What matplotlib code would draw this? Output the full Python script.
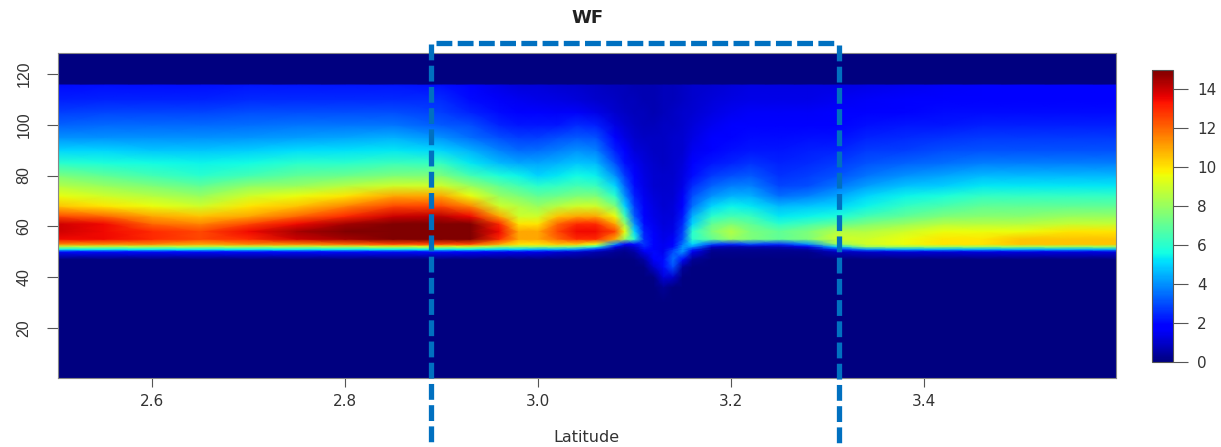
import numpy as np
import matplotlib
matplotlib.use("Agg")
import matplotlib.pyplot as plt
from matplotlib.lines import Line2D
from matplotlib.cm import ScalarMappable
from matplotlib.colors import Normalize

plt.rcParams['font.family'] = ['DejaVu Sans', 'Liberation Sans']

title = "WF"
xlabel = "Latitude"
xticks = [2.6, 2.8, 3.0, 3.2, 3.4]
xticklabels = ["2.6", "2.8", "3.0", "3.2", "3.4"]
yticks = [20, 40, 60, 80, 100, 120]
cticks = [0, 2, 4, 6, 8, 10, 12, 14]

heights = [30, 36, 40, 44, 47, 50, 51, 52, 53, 55, 58, 61, 64, 68, 72, 76, 80, 85, 90, 95, 100, 105, 110, 115.8, 116.2, 129]
lats = [2.50, 2.55, 2.60, 2.65, 2.70, 2.75, 2.80, 2.85, 2.90, 2.93, 2.96, 2.98, 3.00, 3.02, 3.04, 3.06, 3.08, 3.09, 3.10,
        3.11, 3.12, 3.13, 3.14, 3.15, 3.16, 3.18, 3.20, 3.22, 3.25, 3.28, 3.31, 3.34, 3.38, 3.42, 3.46, 3.50, 3.55, 3.60]

c250 = [0,0,0,0,0,2,5.5,8.5,11.5,13.5,14,14,12.5,10.5,9.5,8.5,7.5,6,5,4,3.3,2.8,2.3,2,0,0]
c255 = [0,0,0,0,0,2,5.5,8.5,11.5,13.5,13.5,13.5,12,10,9,8,7,5.8,5,4,3.4,2.9,2.4,2.1,0,0]
c260 = [0,0,0,0,0,2,5.5,8.5,11.5,13,13,12,11,9.5,8.5,7.5,6.5,5.6,4.8,4,3.4,2.9,2.4,2.1,0,0]
c265 = [0,0,0,0,0,2,5.5,8.5,11,12.5,12.5,11.5,10.5,9,8,7,6,5.5,4.8,4,3.4,2.9,2.4,2.1,0,0]
c270 = [0,0,0,0,0,2,5.5,8.5,11.5,13,13.5,12.5,11,10,9,7.8,6.5,5.6,4.9,4.1,3.5,3,2.5,2.2,0,0]
c275 = [0,0,0,0,0,2,5.5,8.5,11.5,14,14.5,13.5,12,10.5,9.5,8,7,6,5.1,4.2,3.6,3,2.5,2.2,0,0]
c280 = [0,0,0,0,0,2,5.5,8.5,12,14.5,15,14.5,13,11.5,10,8.5,7.2,6,5.2,4.3,3.6,3,2.5,2.2,0,0]
c285 = [0,0,0,0,0,2,5.5,9,12.5,15,15.5,15,14,12.5,11,9,7.5,6.3,5.3,4.5,3.6,3,2.5,2.2,0,0]
c290 = [0,0,0,0,0,2,5.5,9,12.5,15,15.5,15,14.2,12.5,11,9,7.5,6.2,5,4,3.2,2.8,2.5,2.1,0,0]
c293 = [0,0,0,0,0,1.8,5.5,9,12.5,15,15.5,15,13.5,11.5,9.5,8,6.5,5.3,4.5,3.5,3,2.4,2,1.7,0,0]
c296 = [0,0,0,0,0,1.5,5,8,11,13,13.5,13,11,9,8,7,5.8,4.6,3.8,3,2.4,2,1.6,1.4,0,0]
c298 = [0,0,0,0,0,1.5,5,8,10,11,11,10,9,8.5,7.5,6.5,5.5,4.3,3.4,2.8,2.2,1.8,1.5,1.2,0,0]
c300 = [0,0,0,0,0,1.5,4.5,8,10,11,11,10,9,8,7,6,5,4.3,3.5,2.8,2.2,1.7,1.4,1.2,0,0]
c302 = [0,0,0,0,0,1.2,4.5,8,10.5,12,12.5,12,10.5,8.5,7.2,6.2,5.3,4.5,3.7,3,2.2,1.6,1.3,1.1,0,0]
c304 = [0,0,0,0,0,1,4,7.5,10.5,13,13.5,13,11,9,7.5,6.5,5.6,4.8,4,3.2,2.5,1.6,1.2,1,0,0]
c306 = [0,0,0,0,0,0.7,2.5,6,9.5,13,13.5,13,11,9,7.5,6.3,5.4,4.6,3.8,3.1,2.3,1.4,1,0.9,0,0]
c308 = [0,0,0,0,0,0.3,0.6,1.5,4,11,12.5,11,9.5,7.5,6,5,4,3,2.3,1.8,1.3,1,0.9,0.8,0,0]
c309 = [0,0,0,0,0,0.2,0.4,0.8,1.8,8,9.5,8,6.5,5,4,3.3,2.7,2.1,1.7,1.3,1.1,0.9,0.8,0.8,0,0]
c310 = [0,0,0,0,0.1,0.5,0.8,1.2,2,6,5,4,3.2,2.7,2.3,2,1.7,1.5,1.2,1,0.9,0.8,0.8,0.7,0,0]
c311 = [0,0,0,0.1,0.5,1.5,2,2.4,2.6,2.5,2.3,2,1.8,1.6,1.5,1.4,1.3,1.2,1.1,0.9,0.8,0.8,0.7,0.7,0,0]
c312 = [0,0,0.1,1,1.8,2,1.9,1.8,1.8,1.7,1.6,1.5,1.4,1.3,1.2,1.1,1.1,1,0.9,0.9,0.8,0.7,0.7,0.7,0,0]
c313 = [0,0.3,1.2,2,2,1.5,1.5,1.5,1.5,1.4,1.3,1.2,1.2,1.1,1.1,1,1,0.9,0.9,0.9,0.9,0.8,0.8,0.8,0,0]
c314 = [0,0,1,3,3.5,3,2.6,2,1.8,1.6,1.4,1.3,1.2,1.2,1.1,1.1,1,1,1,1,0.9,0.9,0.8,0.8,0,0]
c315 = [0,0,0,0.4,2,4,4,4,3.6,3,2.8,2.5,2.2,1.9,1.6,1.4,1.3,1.2,1.1,1.1,1,1,0.9,0.9,0,0]
c316 = [0,0,0,0,0.3,1.5,2.5,4,5,6,6,5,4.5,3.5,3,2.5,2,1.8,1.5,1.3,1.2,1.1,1,1,0,0]
c318 = [0,0,0,0,0,0.2,0.4,1,3,7,7.5,7,6,5,4,3.3,2.7,2.2,1.9,1.7,1.5,1.3,1.2,1.1,0,0]
c320 = [0,0,0,0,0,0.2,0.3,0.7,2.5,8,8.5,7.5,6.5,5.5,4.5,3.7,3,2.4,2.1,1.9,1.7,1.5,1.3,1.2,0,0]
c322 = [0,0,0,0,0,0.2,0.3,0.8,3,7.5,7.5,7,6.3,5.3,4.5,3.8,3.2,2.6,2.2,2,1.8,1.6,1.4,1.3,0,0]
c325 = [0,0,0,0,0,0.2,0.3,0.8,2.5,7,7,6,5.3,4.6,3.5,2.9,2.6,2.4,2.2,2,1.8,1.6,1.4,1.3,0,0]
c328 = [0,0,0,0,0,0.2,0.5,1.5,4,7.5,7.5,6.5,5.5,4.8,3.8,3,2.8,2.5,2.3,2.1,1.8,1.6,1.4,1.3,0,0]
c331 = [0,0,0,0,0,0.8,2.5,5,8,9,8.5,7,5.8,5,4.3,3.6,3.1,2.7,2.4,2.1,1.9,1.7,1.5,1.3,0,0]
c334 = [0,0,0,0,0,1,4,8,9,9,8.5,7.5,6.5,5.5,5,4.2,3.6,3.1,2.7,2.4,2.1,1.8,1.6,1.4,0,0]
c338 = [0,0,0,0,0,1.2,4.5,8,9.5,9.5,9,8,7,6.2,5.5,4.7,4,3.3,2.8,2.5,2.2,1.9,1.7,1.5,0,0]
c342 = [0,0,0,0,0,1.2,4.5,8,10,10,9.5,8.5,7.5,6.6,5.8,4.9,4.3,3.5,3,2.6,2.2,2,1.8,1.6,0,0]
c346 = [0,0,0,0,0,1.3,4.5,8,10,10,9.5,8.5,7.7,7,6.2,5.3,4.6,3.7,3.1,2.7,2.3,2,1.8,1.7,0,0]
c350 = [0,0,0,0,0,1.3,4.5,8,10.5,10.5,9.5,8.5,7.7,7,6.2,5.3,4.6,3.7,3.1,2.7,2.3,2,1.8,1.7,0,0]
c355 = [0,0,0,0,0,1.3,4.5,8,10.5,10.5,10,8.8,8,7,6.2,5.3,4.6,3.7,3.1,2.7,2.3,2,1.8,1.7,0,0]
c360 = [0,0,0,0,0,1.3,4.5,8,10.5,10.5,10,8.8,8,7,6.2,5.3,4.6,3.7,3.1,2.7,2.3,2,1.8,1.7,0,0]

columns = [c250, c255, c260, c265, c270, c275, c280, c285, c290, c293, c296, c298, c300, c302, c304, c306, c308, c309, c310,
           c311, c312, c313, c314, c315, c316, c318, c320, c322, c325, c328, c331, c334, c338, c342, c346, c350, c355, c360]

W, H = 1221, 447
def fx(p): return p / W
def fy(p): return 1 - p / H

GREY = "#555555"
TXT = "#333333"
fig = plt.figure(figsize=(W / 100, H / 100), dpi=100, facecolor="white")
ax = fig.add_axes([fx(58), fy(378), fx(1116 - 58), (378 - 53) / H])
ax.set_facecolor(plt.get_cmap("jet")(0.0))

Z = np.array(columns, dtype=float).T
norm = Normalize(0, 15)
ax.pcolormesh(lats, heights, Z, cmap="jet", norm=norm, shading="gouraud", rasterized=True)
ax.set_xlim(2.5025, 3.599)
ax.set_ylim(0.2, 128.3)

ax.set_xticks(xticks, xticklabels)
ax.set_yticks(yticks, [str(v) for v in yticks])
ax.tick_params(axis="x", length=6.5, width=0.8, color=GREY, labelcolor=TXT, labelsize=11, pad=5)
ax.tick_params(axis="y", length=8, width=0.8, color=GREY, labelcolor=TXT, pad=11)
for t in ax.get_yticklabels():
    t.set_rotation(90)
    t.set_va("center")
    t.set_family("Liberation Sans")
    t.set_size(11.5)
for s in ax.spines.values():
    s.set_color("#888888")
    s.set_linewidth(0.8)

fig.text(fx(588), fy(18), title, ha="center", va="center", fontsize=13, fontweight="bold", color="#222222")
fig.text(fx(586), fy(438), xlabel, ha="center", va="center", fontsize=11.5, color=TXT)

cax = fig.add_axes([fx(1152), fy(362), fx(1173 - 1152), (362 - 70) / H])
cb = fig.colorbar(ScalarMappable(norm=norm, cmap="jet"), cax=cax, ticks=cticks)
cb.ax.tick_params(length=10.5, width=0.8, color=GREY, labelcolor=TXT, labelsize=11, pad=7)
cb.outline.set_edgecolor("#555555")
cb.outline.set_linewidth(0.8)

BLUE = "#0070C0"
dash = dict(color=BLUE, lw=3.8, linestyle=(0, (3.0, 1.02)), dash_capstyle="butt", transform=fig.transFigure, zorder=10)
fig.add_artist(Line2D([fx(436), fx(836)], [fy(43.3), fy(43.3)], **dash))
fig.add_artist(Line2D([fx(431.3), fx(431.3)], [fy(44), fy(447)], **dash))
fig.add_artist(Line2D([fx(839.3), fx(839.3)], [fy(45), fy(447)], **dash))

fig.savefig("out.png", dpi=100)
